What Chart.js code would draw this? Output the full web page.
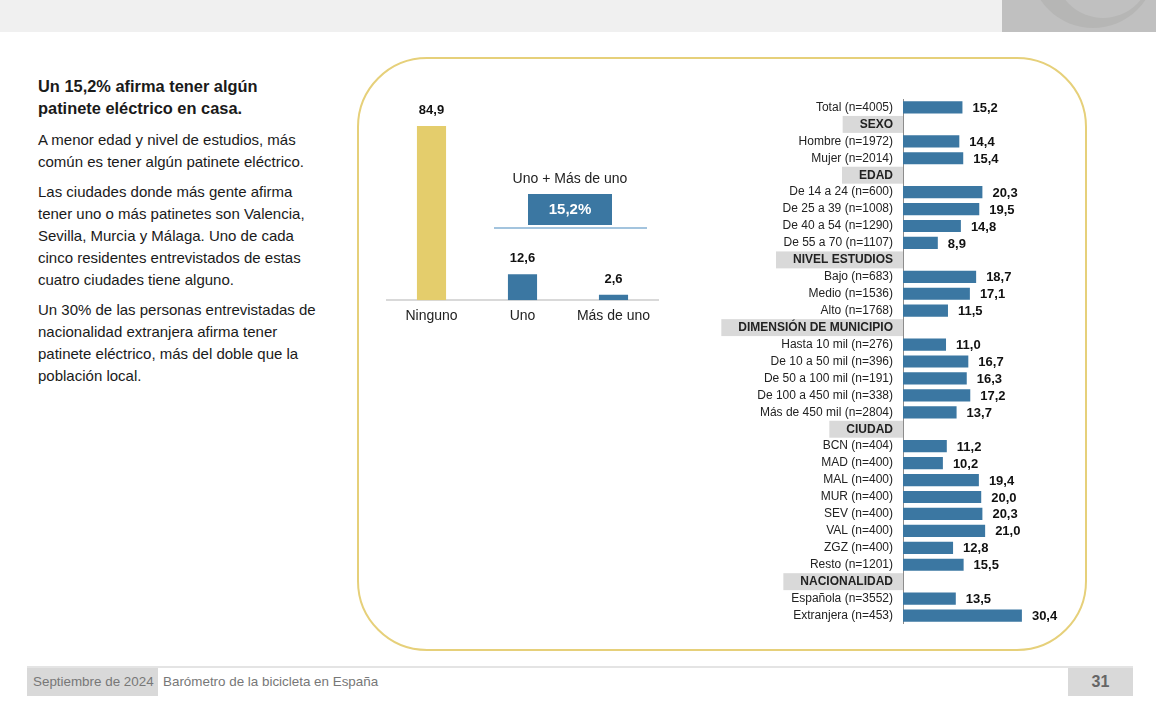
<!DOCTYPE html>
<html lang="es">
<head>
<meta charset="utf-8">
<title>Patinete eléctrico en casa</title>
<script src="https://cdn.jsdelivr.net/npm/chart.js@4.4.1/dist/chart.umd.min.js"></script>
<style>
  body { margin:0; width:1156px; height:702px; position:relative; overflow:hidden; background:#fff;
         font-family:"Liberation Sans", Arial, sans-serif; color:#1a1a1a; }
  .topbar { position:absolute; left:0; top:0; width:1002px; height:32px; background:#f0f0f0; }
  .corner { position:absolute; left:1002px; top:0; width:154px; height:32px; background:#c0c0c0; overflow:hidden; }
  .corner .ring { position:absolute; left:28px; top:-98px; width:126px; height:126px; border-radius:50%; background:#b6b6b5; }
  .corner .hole { position:absolute; left:53px; top:-78px; width:96px; height:96px; border-radius:50%; background:#c0c0c0; }
  .texto { position:absolute; left:38px; top:75px; width:300px; }
  .texto h1 { font-size:16.4px; font-weight:bold; line-height:22px; margin:0 0 10px 0; }
  .texto p { font-size:15px; line-height:22px; margin:0 0 8px 0; }
  .marco { position:absolute; left:357px; top:57px; width:726px; height:590px; border:2px solid #e6d07a; border-radius:70px; }
  #izq { position:absolute; left:386px; top:80px; width:273px; height:258px; }
  #der { position:absolute; left:700px; top:99px; width:379px; height:525px; }
  .pie { position:absolute; left:27px; top:666px; width:1106px; height:28px; border-top:2px solid #e4e4e4; }
  .pie .fecha { position:absolute; left:0; top:0; width:125px; padding-left:6px; height:28px; background:#d9d9d9; color:#777;
                font-size:13.4px; line-height:28px; }
  .pie .titulo { position:absolute; left:136px; top:0; color:#777; font-size:13.4px; line-height:28px; }
  .pie .pagina { position:absolute; right:0; top:0; width:65px; height:28px; background:#d9d9d9; color:#666;
                 font-size:16px; font-weight:bold; line-height:28px; text-align:center; }
</style>
</head>
<body>
<div class="topbar"></div>
<div class="corner"><div class="ring"></div><div class="hole"></div></div>

<div class="texto">
  <h1>Un 15,2% afirma tener algún<br>patinete eléctrico en casa.</h1>
  <p>A menor edad y nivel de estudios, más<br>común es tener algún patinete eléctrico.</p>
  <p>Las ciudades donde más gente afirma<br>tener uno o más patinetes son Valencia,<br>Sevilla, Murcia y Málaga. Uno de cada<br>cinco residentes entrevistados de estas<br>cuatro ciudades tiene alguno.</p>
  <p>Un 30% de las personas entrevistadas de<br>nacionalidad extranjera afirma tener<br>patinete eléctrico, más del doble que la<br>población local.</p>
</div>

<div class="marco"></div>
<div id="izq"><canvas id="graficoTenencia"></canvas></div>
<div id="der"><canvas id="graficoPerfil"></canvas></div>

<div class="pie">
  <div class="fecha">Septiembre de 2024</div>
  <div class="titulo">Barómetro de la bicicleta en España</div>
  <div class="pagina">31</div>
</div>

<script>
// Datos del gráfico izquierdo
const tenenciaLabels = ["Ninguno", "Uno", "Más de uno"];
const tenenciaValues = [84.9, 12.6, 2.6];
const tenenciaColores = ["#e4cd6c", "#3b77a2", "#3b77a2"];
const combinadoTitulo = "Uno + Más de uno";
const combinadoValor = "15,2%";

// Datos del gráfico derecho (null = fila de cabecera)
const perfilLabels = [
  "Total (n=4005)",
  "SEXO", "Hombre (n=1972)", "Mujer (n=2014)",
  "EDAD", "De 14 a 24 (n=600)", "De 25 a 39 (n=1008)", "De 40 a 54 (n=1290)", "De 55 a 70 (n=1107)",
  "NIVEL ESTUDIOS", "Bajo (n=683)", "Medio (n=1536)", "Alto (n=1768)",
  "DIMENSIÓN DE MUNICIPIO", "Hasta 10 mil (n=276)", "De 10 a 50 mil (n=396)", "De 50 a 100 mil (n=191)",
  "De 100 a 450 mil (n=338)", "Más de 450 mil (n=2804)",
  "CIUDAD", "BCN (n=404)", "MAD (n=400)", "MAL (n=400)", "MUR (n=400)", "SEV (n=400)", "VAL (n=400)",
  "ZGZ (n=400)", "Resto (n=1201)",
  "NACIONALIDAD", "Española (n=3552)", "Extranjera (n=453)"
];
const perfilValues = [
  15.2,
  null, 14.4, 15.4,
  null, 20.3, 19.5, 14.8, 8.9,
  null, 18.7, 17.1, 11.5,
  null, 11.0, 16.7, 16.3, 17.2, 13.7,
  null, 11.2, 10.2, 19.4, 20.0, 20.3, 21.0, 12.8, 15.5,
  null, 13.5, 30.4
];
const cabeceras = ["SEXO", "EDAD", "NIVEL ESTUDIOS", "DIMENSIÓN DE MUNICIPIO", "CIUDAD", "NACIONALIDAD"];

Chart.defaults.font.family = '"Liberation Sans", Arial, sans-serif';
Chart.defaults.color = "#222";

const fmt = (v) => v.toFixed(1).replace(".", ",");

// Etiquetas de valor y recuadro "Uno + Más de uno"
const etiquetasTenencia = {
  id: "etiquetasTenencia",
  afterDatasetsDraw(chart) {
    const c = chart.ctx;
    const barras = chart.getDatasetMeta(0).data;
    c.save();
    c.font = "bold 13px " + Chart.defaults.font.family;
    c.fillStyle = "#111";
    c.textAlign = "center";
    c.textBaseline = "bottom";
    barras.forEach((b, i) => c.fillText(fmt(tenenciaValues[i]), b.x, b.y - 9));

    const xs = chart.scales.x;
    const centro = (xs.getPixelForValue(1) + xs.getPixelForValue(2)) / 2 + 2;
    c.font = "14px " + Chart.defaults.font.family;
    c.fillStyle = "#222";
    c.textBaseline = "middle";
    c.fillText(combinadoTitulo, centro, 99);
    c.fillStyle = "#3b77a2";
    c.fillRect(centro - 42, 114, 84, 31);
    c.fillStyle = "#fff";
    c.font = "bold 15px " + Chart.defaults.font.family;
    c.fillText(combinadoValor, centro, 130);
    c.fillStyle = "#a3c4de";
    c.fillRect(centro - 76, 147, 153, 2);
    c.restore();
  }
};

new Chart(document.getElementById("graficoTenencia"), {
  type: "bar",
  data: {
    labels: tenenciaLabels,
    datasets: [{
      data: tenenciaValues,
      backgroundColor: tenenciaColores,
      barPercentage: 0.32,
      categoryPercentage: 1
    }]
  },
  options: {
    responsive: true,
    maintainAspectRatio: false,
    animation: false,
    layout: { padding: { top: 15, bottom: 5 } },
    plugins: { legend: { display: false }, tooltip: { enabled: false } },
    scales: {
      x: {
        grid: { display: false, drawTicks: false },
        border: { display: true, color: "#d9d9d9", width: 2 },
        ticks: { font: { size: 14 }, color: "#222", padding: 8, maxRotation: 0 }
      },
      y: { display: false, min: 0, max: 100 }
    }
  },
  plugins: [etiquetasTenencia]
});

// Recuadros grises de cabecera y etiquetas de valor
const esCabecera = (i) => perfilValues[i] === null;
const fuenteCabecera = 'bold 12px "Liberation Sans", Arial, sans-serif';

const cabecerasPerfil = {
  id: "cabecerasPerfil",
  beforeDraw(chart) {
    const c = chart.ctx;
    const ys = chart.scales.y;
    const banda = (ys.bottom - ys.top) / perfilLabels.length;
    c.save();
    c.font = fuenteCabecera;
    c.fillStyle = "#d9d9d9";
    perfilLabels.forEach((lab, i) => {
      if (!cabeceras.includes(lab)) return;
      const ancho = Math.max(59, c.measureText(lab).width + 27);
      const y = ys.getPixelForTick(i);
      c.fillRect(ys.right - ancho, y - banda / 2, ancho, banda);
    });
    c.restore();
  },
  afterDatasetsDraw(chart) {
    const c = chart.ctx;
    c.save();
    c.font = "bold 13px " + Chart.defaults.font.family;
    c.fillStyle = "#111";
    c.textAlign = "left";
    c.textBaseline = "middle";
    chart.getDatasetMeta(0).data.forEach((b, i) => {
      const v = perfilValues[i];
      if (v === null) return;
      c.fillText(fmt(v), b.x + 10, b.y + 1);
    });
    c.restore();
  }
};

new Chart(document.getElementById("graficoPerfil"), {
  type: "bar",
  data: {
    labels: perfilLabels,
    datasets: [{
      data: perfilValues,
      backgroundColor: "#3b77a2",
      barPercentage: 0.72,
      categoryPercentage: 1
    }]
  },
  options: {
    indexAxis: "y",
    responsive: true,
    maintainAspectRatio: false,
    animation: false,
    layout: { autoPadding: false, padding: 0 },
    plugins: { legend: { display: false }, tooltip: { enabled: false } },
    scales: {
      x: { display: false, min: 0, max: 45 },
      y: {
        afterFit(scale) {
          scale.width = 203;
          scale.paddingTop = 0;
          scale.paddingBottom = 0;
        },
        grid: { display: false, drawTicks: false },
        border: { display: true, color: "#8c8c8c", width: 1 },
        ticks: {
          autoSkip: false,
          padding: 10,
          color: "#222",
          font: (ctx) => esCabecera(ctx.index)
            ? { size: 12, weight: "bold" }
            : { size: 12, weight: "normal" }
        }
      }
    }
  },
  plugins: [cabecerasPerfil]
});
</script>
</body>
</html>
